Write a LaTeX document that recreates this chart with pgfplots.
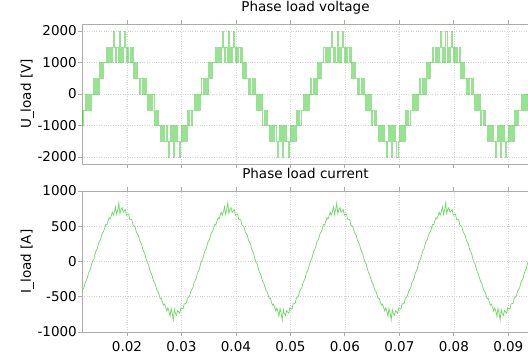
\documentclass[border=0pt]{standalone}
\usepackage{pgfplots}
\pgfplotsset{compat=1.18}
\usepackage{pgfplotstable}
\usepackage{fontspec}
\setmainfont{DejaVu Sans}
\definecolor{vline}{RGB}{50,200,35}
\definecolor{iline}{RGB}{115,218,105}
\definecolor{framec}{RGB}{172,172,172}
\definecolor{gridc}{RGB}{212,212,212}

% one period of the phase voltage (PWM levels), repeated every 0.02 s
\pgfplotstableread[row sep=\\]{
t v\\
0.0135 0\\ 0.0137 500\\ 0.0139 0\\ 0.0141 500\\ 0.0143 0\\ 0.0145 500\\ 0.0147 0\\
0.0149 1000\\ 0.0151 500\\ 0.0153 1000\\ 0.0155 500\\ 0.0157 1000\\
0.0159 1000\\ 0.0161 1500\\ 0.0163 1000\\ 0.0165 1500\\ 0.0167 1000\\ 0.0169 1500\\ 0.0171 1000\\ 0.0173 1500\\
0.0175 2000\\ 0.0177 1500\\ 0.0179 1000\\ 0.0181 1500\\ 0.0183 1000\\ 0.0185 2000\\ 0.0187 1000\\ 0.0189 1500\\
0.0191 1000\\ 0.0193 1500\\ 0.0195 2000\\ 0.0197 1500\\ 0.0199 1000\\ 0.0201 1500\\ 0.0203 1000\\ 0.0205 1500\\
0.0207 1000\\ 0.0209 1500\\
0.0211 500\\ 0.0213 1000\\ 0.0215 500\\ 0.0217 1000\\ 0.0219 500\\
0.0221 500\\ 0.0223 0\\ 0.0225 500\\ 0.0227 0\\ 0.0229 500\\ 0.0231 0\\ 0.0233 500\\
0.0235 0\\ 0.0237 -500\\ 0.0239 0\\ 0.0241 -500\\ 0.0243 0\\ 0.0245 -500\\ 0.0247 0\\
0.0249 -1000\\ 0.0251 -500\\ 0.0253 -1000\\ 0.0255 -500\\ 0.0257 -1000\\
0.0259 -1000\\ 0.0261 -1500\\ 0.0263 -1000\\ 0.0265 -1500\\ 0.0267 -1000\\ 0.0269 -1500\\ 0.0271 -1000\\ 0.0273 -1500\\
0.0275 -2000\\ 0.0277 -1500\\ 0.0279 -1000\\ 0.0281 -1500\\ 0.0283 -1000\\ 0.0285 -2000\\ 0.0287 -1000\\ 0.0289 -1500\\
0.0291 -1000\\ 0.0293 -1500\\ 0.0295 -2000\\ 0.0297 -1500\\ 0.0299 -1000\\ 0.0301 -1500\\ 0.0303 -1000\\ 0.0305 -1500\\
0.0307 -1000\\ 0.0309 -1500\\
0.0311 -500\\ 0.0313 -1000\\ 0.0315 -500\\ 0.0317 -1000\\ 0.0319 -500\\
0.0321 -500\\ 0.0323 0\\ 0.0325 -500\\ 0.0327 0\\ 0.0329 -500\\ 0.0331 0\\ 0.0333 -500\\
0.0335 0\\
}\voltab

% one period of the phase current, repeated every 0.02 s
\pgfplotstableread[row sep=\\]{
t i\\
0.0137 10\\ 0.0139 36\\ 0.0141 93\\ 0.0143 149\\ 0.0145 174\\ 0.0147 229\\ 0.0149 282\\ 0.0151 305\\
0.0153 357\\ 0.0155 406\\ 0.0157 425\\ 0.0159 472\\ 0.0161 527\\ 0.0163 519\\ 0.0165 570\\ 0.0167 619\\
0.0169 605\\ 0.0171 648\\ 0.0173 700\\ 0.0175 658\\ 0.0177 704\\ 0.0179 777\\ 0.0181 667\\ 0.0183 734\\
0.0185 829\\ 0.0187 680\\ 0.0189 739\\ 0.0191 764\\ 0.0193 697\\ 0.0195 717\\ 0.0197 734\\ 0.0199 658\\
0.0201 670\\ 0.0203 673\\ 0.0205 600\\ 0.0207 599\\ 0.0209 590\\ 0.0211 519\\ 0.0213 507\\ 0.0215 484\\
0.0217 423\\ 0.0219 396\\ 0.0221 369\\ 0.0223 303\\ 0.0225 272\\ 0.0227 239\\ 0.0229 174\\ 0.0231 139\\
0.0233 103\\ 0.0235 36\\
0.0237 -10\\ 0.0239 -36\\ 0.0241 -93\\ 0.0243 -149\\ 0.0245 -174\\ 0.0247 -229\\ 0.0249 -282\\ 0.0251 -305\\
0.0253 -357\\ 0.0255 -406\\ 0.0257 -425\\ 0.0259 -472\\ 0.0261 -527\\ 0.0263 -519\\ 0.0265 -570\\ 0.0267 -619\\
0.0269 -605\\ 0.0271 -648\\ 0.0273 -700\\ 0.0275 -658\\ 0.0277 -704\\ 0.0279 -777\\ 0.0281 -667\\ 0.0283 -734\\
0.0285 -829\\ 0.0287 -680\\ 0.0289 -739\\ 0.0291 -764\\ 0.0293 -697\\ 0.0295 -717\\ 0.0297 -734\\ 0.0299 -658\\
0.0301 -670\\ 0.0303 -673\\ 0.0305 -600\\ 0.0307 -599\\ 0.0309 -590\\ 0.0311 -519\\ 0.0313 -507\\ 0.0315 -484\\
0.0317 -423\\ 0.0319 -396\\ 0.0321 -369\\ 0.0323 -303\\ 0.0325 -272\\ 0.0327 -239\\ 0.0329 -174\\ 0.0331 -139\\
0.0333 -103\\ 0.0335 -36\\
0.0337 10\\
}\curtab

\pgfplotsset{
  myaxis/.style={
    scale only axis,
    width=447pt,
    xmin=0.011739, xmax=0.093802,
    xtick={0.02,0.03,0.04,0.05,0.06,0.07,0.08,0.09},
    scaled x ticks=false, scaled y ticks=false,
    font=\fontsize{13.5pt}{16pt}\selectfont,
    /pgf/number format/assume math mode=true,
    axis line style={framec, line width=0.8pt},
    tick style={framec, line width=0.8pt},
    tick align=outside,
    major tick length=4pt,
    grid=major,
    grid style={gridc, dotted, line width=0.6pt},
    yticklabel style={inner sep=0pt, xshift=-1pt, /pgf/number format/fixed, /pgf/number format/1000 sep={}},
    xticklabel style={inner sep=0pt, yshift=-5pt, /pgf/number format/fixed, /pgf/number format/precision=2, /pgf/number format/fixed zerofill},
    title style={at={(0.5,1)}, anchor=base, yshift=6pt, inner sep=0pt},
    every axis y label/.style={at={(axis description cs:-0.1141,0.5)}, rotate=90, anchor=base},
    clip=true,
  }
}

\begin{document}
\begin{tikzpicture}
\useasboundingbox (0pt,0pt) rectangle (528pt,356pt);
\begin{axis}[myaxis,
  at={(82pt,192pt)}, anchor=south west,
  height=140pt,
  ymin=-2222, ymax=2222,
  ytick={-2000,-1000,0,1000,2000},
  xticklabels={},
  title={Phase load voltage},
  ylabel={U\_load [V]},
]
\pgfplotsinvokeforeach{-0.02,0,0.02,0.04,0.06,0.08}{
  \addplot[const plot, vline, draw opacity=0.5, line width=0.35pt, line join=miter] table[x expr=\thisrow{t}+#1, y=v]{\voltab};
}
\end{axis}
\begin{axis}[myaxis,
  at={(82pt,24pt)}, anchor=south west,
  height=141pt,
  ymin=-1000, ymax=1000,
  ytick={-1000,-500,0,500,1000},
  title={Phase load current},
  ylabel={I\_load [A]},
]
\pgfplotsinvokeforeach{-0.02,0,0.02,0.04,0.06,0.08}{
  \addplot[sharp plot, iline, line width=0.75pt] table[x expr=\thisrow{t}+#1, y=i]{\curtab};
}
\end{axis}
\end{tikzpicture}
\end{document}
